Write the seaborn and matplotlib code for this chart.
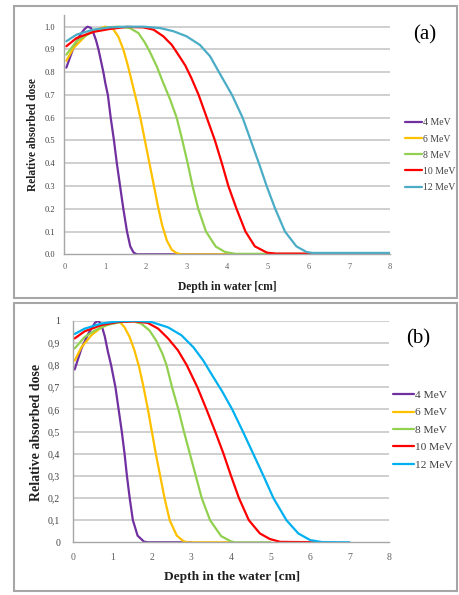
import numpy as np
import pandas as pd
import matplotlib
matplotlib.use("Agg")
import matplotlib.pyplot as plt
from matplotlib.patches import Rectangle
import seaborn as sns

# ---------------------------------------------------------------- data
energies = ["4 MeV", "6 MeV", "8 MeV", "10 MeV", "12 MeV"]

# (a) depth-dose curves
depth_a_4 = [0.05, 0.22, 0.39, 0.50, 0.57, 0.65, 0.72, 0.78, 0.84, 0.90, 0.96, 1.01, 1.07,
             1.14, 1.22, 1.29, 1.37, 1.45, 1.54, 1.62, 1.70, 1.78, 8.0]
dose_a_4 = [0.82, 0.905, 0.965, 0.99, 1.0, 0.995, 0.97, 0.94, 0.90, 0.85, 0.80, 0.75, 0.70,
            0.60, 0.50, 0.40, 0.30, 0.20, 0.10, 0.035, 0.008, 0.0, 0.0]

depth_a_6 = [0.05, 0.22, 0.55, 0.80, 1.0, 1.20, 1.33, 1.45, 1.56, 1.67, 1.78, 1.88, 1.98,
             2.08, 2.18, 2.29, 2.40, 2.52, 2.64, 2.76, 2.88, 8.0]
dose_a_6 = [0.85, 0.905, 0.965, 0.987, 1.0, 0.99, 0.955, 0.90, 0.83, 0.75, 0.67, 0.59, 0.50,
            0.41, 0.32, 0.22, 0.13, 0.06, 0.02, 0.005, 0.0, 0.0]

depth_a_8 = [0.05, 0.30, 0.71, 1.04, 1.33, 1.61, 1.82, 1.98, 2.10, 2.27, 2.43, 2.60, 2.76,
             2.90, 3.03, 3.15, 3.29, 3.48, 3.72, 3.95, 4.20, 8.0]
dose_a_8 = [0.877, 0.936, 0.98, 0.997, 1.0, 0.994, 0.972, 0.93, 0.89, 0.826, 0.753, 0.68, 0.60,
            0.50, 0.40, 0.30, 0.20, 0.10, 0.034, 0.01, 0.002, 0.002]

depth_a_10 = [0.05, 0.30, 0.71, 1.12, 1.53, 1.94, 2.19, 2.43, 2.64, 2.80, 2.97, 3.12, 3.30,
              3.50, 3.70, 3.87, 4.03, 4.23, 4.45, 4.68, 4.98, 5.20, 8.0]
dose_a_10 = [0.914, 0.95, 0.977, 0.99, 0.999, 0.997, 0.987, 0.958, 0.92, 0.877, 0.83, 0.775, 0.70,
             0.60, 0.50, 0.40, 0.30, 0.20, 0.10, 0.035, 0.007, 0.003, 0.003]

depth_a_12 = [0.05, 0.30, 0.71, 1.12, 1.53, 1.94, 2.35, 2.68, 3.00, 3.33, 3.58, 3.80, 4.12,
              4.38, 4.58, 4.78, 4.97, 5.18, 5.42, 5.70, 5.95, 6.10, 8.0]
dose_a_12 = [0.936, 0.965, 0.987, 0.997, 1.0, 1.0, 0.994, 0.98, 0.958, 0.92, 0.87, 0.80, 0.70,
             0.60, 0.50, 0.40, 0.30, 0.20, 0.10, 0.035, 0.01, 0.006, 0.006]

# (b) depth-dose curves
depth_b_4 = [0.05, 0.22, 0.39, 0.56, 0.64, 0.72, 0.81, 0.89, 0.97, 1.08, 1.16, 1.24, 1.31,
             1.37, 1.44, 1.52, 1.64, 1.80, 1.90, 3.0]
dose_b_4 = [0.78, 0.874, 0.94, 0.99, 1.0, 0.985, 0.93, 0.86, 0.80, 0.70, 0.60, 0.50, 0.40,
            0.30, 0.20, 0.10, 0.03, 0.003, 0.0, 0.0]

depth_b_6 = [0.05, 0.22, 0.47, 0.72, 0.98, 1.19, 1.31, 1.44, 1.56, 1.68, 1.79, 1.90, 2.00,
             2.10, 2.21, 2.32, 2.45, 2.63, 2.80, 2.90, 4.0]
dose_b_6 = [0.82, 0.88, 0.934, 0.97, 0.99, 0.995, 0.97, 0.926, 0.866, 0.79, 0.70, 0.60, 0.50,
            0.40, 0.30, 0.20, 0.10, 0.03, 0.005, 0.0, 0.0]

depth_b_8 = [0.05, 0.30, 0.56, 0.89, 1.23, 1.52, 1.73, 1.94, 2.11, 2.27, 2.37, 2.51, 2.67,
             2.81, 2.96, 3.11, 3.26, 3.47, 3.75, 4.00, 4.10, 5.0]
dose_b_8 = [0.875, 0.926, 0.956, 0.982, 0.994, 0.997, 0.987, 0.956, 0.91, 0.85, 0.80, 0.70, 0.60,
            0.50, 0.40, 0.30, 0.20, 0.10, 0.028, 0.004, 0.0, 0.0]

depth_b_10 = [0.05, 0.30, 0.72, 1.14, 1.57, 1.90, 2.16, 2.41, 2.66, 2.88, 3.15, 3.38, 3.60,
              3.81, 4.00, 4.20, 4.45, 4.73, 4.98, 5.24, 6.3]
dose_b_10 = [0.92, 0.952, 0.98, 0.994, 0.997, 0.99, 0.964, 0.92, 0.866, 0.80, 0.70, 0.60, 0.50,
             0.40, 0.30, 0.20, 0.10, 0.04, 0.015, 0.002, 0.0]

depth_b_12 = [0.05, 0.30, 0.72, 1.14, 1.57, 1.99, 2.41, 2.75, 3.05, 3.30, 3.52, 3.78, 4.03,
              4.30, 4.56, 4.82, 5.07, 5.40, 5.70, 6.00, 6.30, 7.0]
dose_b_12 = [0.94, 0.964, 0.987, 0.997, 1.0, 0.994, 0.97, 0.934, 0.88, 0.82, 0.755, 0.68, 0.60,
             0.50, 0.40, 0.30, 0.20, 0.10, 0.04, 0.01, 0.001, 0.0]

colors_a = ["#7030A0", "#FFC000", "#92D050", "#FF0000", "#4BACC6"]
colors_b = ["#7030A0", "#FFC000", "#92D050", "#FF0000", "#00B0F0"]

yticks_a = [0.0, 0.1, 0.2, 0.3, 0.4, 0.5, 0.6, 0.7, 0.8, 0.9, 1.0]
ytick_labels_a = ["0.0", "0.1", "0.2", "0.3", "0.4", "0.5", "0.6", "0.7", "0.8", "0.9", "1.0"]
ytick_labels_b = ["0", "0,1", "0,2", "0,3", "0,4", "0,5", "0,6", "0,7", "0,8", "0,9", "1"]
xticks = [0, 1, 2, 3, 4, 5, 6, 7, 8]


def long_table(depths, doses):
    frames = []
    for name, d, v in zip(energies, depths, doses):
        frames.append(pd.DataFrame({"depth": d, "dose": v, "energy": name}))
    return pd.concat(frames, ignore_index=True)


df_a = long_table([depth_a_4, depth_a_6, depth_a_8, depth_a_10, depth_a_12],
                  [dose_a_4, dose_a_6, dose_a_8, dose_a_10, dose_a_12])
df_b = long_table([depth_b_4, depth_b_6, depth_b_8, depth_b_10, depth_b_12],
                  [dose_b_4, dose_b_6, dose_b_8, dose_b_10, dose_b_12])

# ---------------------------------------------------------------- style
sns.set_theme(style="white")
plt.rcParams["font.family"] = ["Liberation Serif", "DejaVu Serif"]

W, H = 459, 595
fig = plt.figure(figsize=(W / 100, H / 100), dpi=100)
fig.patch.set_facecolor("white")


def fx(px):
    return px / W


def fy(py):
    return 1 - py / H


# panel frames
for (x0, y0, x1, y1) in [(14, 6, 457, 298), (14, 303, 457, 591)]:
    fig.patches.append(Rectangle((fx(x0), fy(y1)), fx(x1) - fx(x0), fy(y0) - fy(y1),
                                 transform=fig.transFigure, fill=False,
                                 edgecolor="#A6A6A6", linewidth=1.5))

ax_a = fig.add_axes([fx(64.3), fy(254.3), fx(390) - fx(64.3), fy(15.3) - fy(254.3)])
ax_b = fig.add_axes([fx(72.7), fy(542.3), fx(389.3) - fx(72.7), fy(320.7) - fy(542.3)])


def draw(ax, df, colors, ylim_top, ytick_labels, tick_size, ypad, xpad):
    sns.lineplot(data=df, x="depth", y="dose", hue="energy", hue_order=energies,
                 palette=colors, estimator=None, sort=False, linewidth=1.6, ax=ax)
    ax.set_xlim(0, 8)
    ax.set_ylim(0, ylim_top)
    ax.set_xticks(xticks)
    ax.set_xticklabels([str(t) for t in xticks])
    ax.set_yticks(yticks_a)
    ax.set_yticklabels(ytick_labels)
    ax.tick_params(axis="both", length=0, labelsize=tick_size)
    ax.tick_params(axis="y", pad=ypad, labelcolor="#404040")
    ax.tick_params(axis="x", pad=xpad, labelcolor="#606060")
    for y in yticks_a[1:]:
        ax.axhline(y, color="#CFCFCF", linewidth=1.4, zorder=0)
    for s in ["top", "right"]:
        ax.spines[s].set_visible(False)
    for s in ["left", "bottom"]:
        ax.spines[s].set_color("#A6A6A6")
        ax.spines[s].set_linewidth(1.0)
    ax.set_facecolor("white")


draw(ax_a, df_a, colors_a, 1.05, ytick_labels_a, 6, 6.5, 6.0)
draw(ax_b, df_b, colors_b, 1.0, ytick_labels_b, 7, 9.0, 8.0)

# axis titles
ax_a.set_xlabel("Depth in water [cm]", fontsize=8.3, fontweight="bold", color="#202020")
ax_a.set_ylabel("Relative absorbed dose", fontsize=8.3, fontweight="bold", color="#202020")
ax_a.xaxis.set_label_coords(0.4995, -0.137)
ax_a.yaxis.set_label_coords(-0.096, 0.499)
ax_b.set_xlabel("Depth in the water [cm]", fontsize=9.6, fontweight="bold", color="#202020")
ax_b.set_ylabel("Relative absorbed dose", fontsize=10, fontweight="bold", color="#202020")
ax_b.xaxis.set_label_coords(0.503, -0.1566)
ax_b.yaxis.set_label_coords(-0.1137, 0.498)
for ax in (ax_a, ax_b):
    ax.xaxis.label.set_va("center")
    ax.yaxis.label.set_va("center")

# legends on the right of each panel
for ax, cx, cy, size, hl, spacing in [(ax_a, 405, 155.2, 7.0, 1.75, 0.74),
                                      (ax_b, 393, 430.0, 8.2, 1.85, 0.66)]:
    handles, labels = ax.get_legend_handles_labels()
    leg = ax.legend(handles, labels, loc="center left",
                    bbox_to_anchor=(fx(cx), fy(cy)), bbox_transform=fig.transFigure,
                    frameon=False, fontsize=size, handlelength=hl, handletextpad=0.1,
                    labelspacing=spacing, borderpad=0, borderaxespad=0)
    for t in leg.get_texts():
        t.set_color("#404040")
    for ln in leg.get_lines():
        ln.set_linewidth(1.6)

fig.text(fx(425), fy(35), "(a)", ha="center", va="center", fontsize=15, color="black")
fig.text(fx(418.5), fy(339), "(b)", ha="center", va="center", fontsize=15, color="black")

fig.savefig("out.png", dpi=100, facecolor="white")
